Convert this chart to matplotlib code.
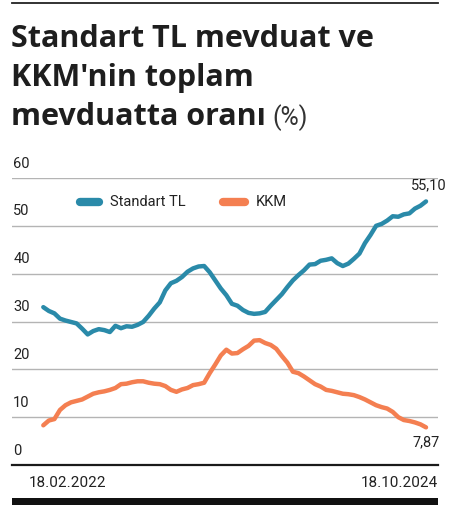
import matplotlib
matplotlib.use('Agg')
import matplotlib.pyplot as plt
from matplotlib.lines import Line2D
from matplotlib.patches import Rectangle
import pandas as pd

# ---- data ----
start_date = '2022-02-18'
end_date = '2024-10-18'
standart_tl = [33.0, 32.2, 31.7, 30.6, 30.2, 29.9, 29.6, 28.5, 27.3, 28.0,
               28.4, 28.2, 27.8, 29.1, 28.6, 29.0, 28.9, 29.3, 29.9, 31.2,
               32.7, 34.0, 36.5, 38.0, 38.5, 39.3, 40.4, 41.1, 41.5, 41.6,
               40.3, 38.6, 36.9, 35.5, 33.7, 33.3, 32.4, 31.8, 31.6, 31.7,
               32.0, 33.3, 34.5, 35.7, 37.2, 38.6, 39.7, 40.7, 41.9, 42.0,
               42.7, 42.9, 43.2, 42.2, 41.6, 42.1, 43.1, 44.2, 46.4, 48.1,
               50.0, 50.4, 51.1, 52.0, 51.9, 52.4, 52.6, 53.6, 54.2, 55.1]
kkm = [8.3, 9.3, 9.6, 11.5, 12.5, 13.1, 13.4, 13.7, 14.3, 14.9,
       15.2, 15.4, 15.7, 16.1, 16.9, 17.0, 17.3, 17.5, 17.5, 17.2,
       17.0, 16.9, 16.5, 15.7, 15.3, 15.8, 16.1, 16.7, 16.9, 17.2,
       19.2, 21.0, 22.9, 24.1, 23.3, 23.4, 24.2, 24.9, 26.0, 26.1,
       25.5, 25.1, 24.3, 22.8, 21.4, 19.5, 19.2, 18.5, 17.7, 16.9,
       16.4, 15.7, 15.5, 15.2, 14.9, 14.8, 14.6, 14.2, 13.7, 13.1,
       12.5, 12.1, 11.8, 11.1, 10.0, 9.4, 9.2, 8.9, 8.5, 7.87]
y_ticks = [0, 10, 20, 30, 40, 50, 60]
series_names = ['Standart TL', 'KKM']
last_labels = ['55,10', '7,87']
date_labels = ['18.02.2022', '18.10.2024']
title_lines = ['Standart TL mevduat ve', "KKM'nin toplam", 'mevduatta oranı']
title_unit = '(%)'

BLUE = '#2a8aa9'
ORANGE = '#f47f51'
W, H = 459, 512

SMALL = ['Roboto', 'DejaVu Sans']
TITLE = ['Open Sans', 'DejaVu Sans']
TXT = '#222222'

fig = plt.figure(figsize=(W / 100, H / 100), dpi=100)
fig.patch.set_facecolor('white')

def fx(x):
    return x / W

def fy(y):
    return 1 - y / H

ax = fig.add_axes([fx(12), fy(465), fx(426), (465 - 178) / H])
ax.set_facecolor('none')

dates = pd.date_range(start_date, end_date, periods=len(standart_tl))
ax.set_xlim(dates[0] - pd.Timedelta(days=79.6), dates[-1] + pd.Timedelta(days=30.5))
ax.set_ylim(0, 60)
for s in ax.spines.values():
    s.set_visible(False)
ax.set_xticks([])
ax.set_yticks([])

for v in y_ticks[1:]:
    ax.axhline(v, color='#b4b4b4', lw=1.0, zorder=1)
ax.axhline(0, color='#1a1a1a', lw=1.6, zorder=3, clip_on=False)
for v in y_ticks:
    ax.text(0.003, v + 1.55, str(v), transform=ax.get_yaxis_transform(),
            ha='left', va='bottom', fontsize=10.5, family=SMALL, color=TXT)

ax.plot(dates, standart_tl, color=BLUE, lw=3.2, solid_capstyle='round',
        solid_joinstyle='round', zorder=4, clip_on=False)
ax.plot(dates, kkm, color=ORANGE, lw=3.2, solid_capstyle='round',
        solid_joinstyle='round', zorder=4, clip_on=False)

ax.annotate(last_labels[0], (dates[-1], standart_tl[-1]), xytext=(3, 9),
            textcoords='offset pixels', ha='center', va='bottom',
            fontsize=10.5, family=SMALL, color=TXT)
ax.annotate(last_labels[1], (dates[-1], kkm[-1]), xytext=(0, -8),
            textcoords='offset pixels', ha='center', va='top',
            fontsize=10.5, family=SMALL, color=TXT)

# legend (manual)
fig.add_artist(Line2D([fx(80), fx(99)], [fy(202), fy(202)], color=BLUE, lw=6,
                      solid_capstyle='round', transform=fig.transFigure))
fig.text(fx(110), fy(202), series_names[0], ha='left', va='center',
         fontsize=10.5, family=SMALL, color=TXT)
fig.add_artist(Line2D([fx(223), fx(245)], [fy(202), fy(202)], color=ORANGE, lw=6,
                      solid_capstyle='round', transform=fig.transFigure))
fig.text(fx(256), fy(202), series_names[1], ha='left', va='center',
         fontsize=10.5, family=SMALL, color=TXT)

# date labels
fig.text(fx(29), fy(487), date_labels[0], ha='left', va='baseline',
         fontsize=11, family=SMALL, color=TXT)
fig.text(fx(438), fy(487), date_labels[1], ha='right', va='baseline',
         fontsize=11, family=SMALL, color=TXT)

# bottom bar and top rule
fig.add_artist(Rectangle((fx(12), fy(505)), fx(426), 7 / H, color='#111111',
                         transform=fig.transFigure, lw=0))
fig.add_artist(Line2D([fx(12), fx(438)], [fy(2.5), fy(2.5)], color='#222222',
                      lw=1.3, transform=fig.transFigure))

# title
baselines = [47, 86, 125]
t3 = None
for line, b in zip(title_lines, baselines):
    t = fig.text(fx(11), fy(b), line, ha='left', va='baseline', fontsize=22,
                 fontweight='bold', family=TITLE, color='#1e1e1e')
    t3 = t
fig.canvas.draw()
bb = t3.get_window_extent()
fig.text(bb.x1 / W + fx(7), fy(125), title_unit, ha='left', va='baseline',
         fontsize=18, family=SMALL, color='#333333')

fig.savefig('out.png', dpi=100)
